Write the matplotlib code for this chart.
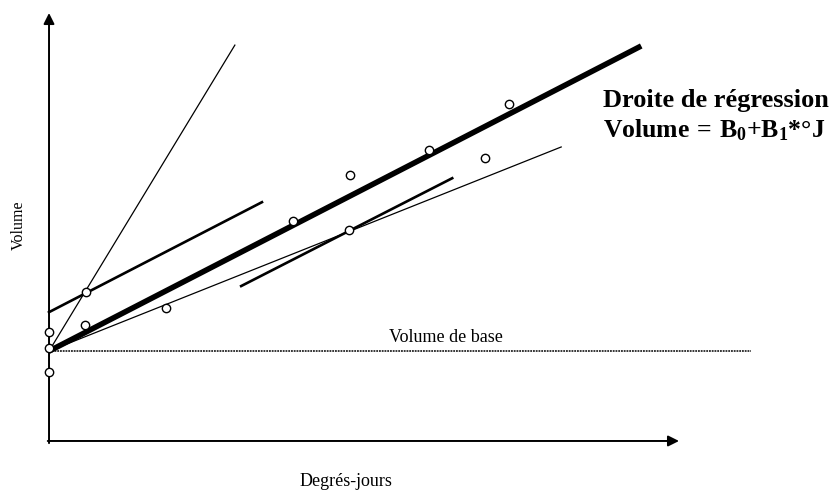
import matplotlib
matplotlib.use("Agg")
import matplotlib.pyplot as plt

# ---- data (units: degree-days on x, volume on y) ----
obs_x = [0, 0, 0, 5.9, 5.7, 18.6, 38.7, 47.8, 47.6, 60.3, 69.2, 73.0]
obs_y = [25.5, 21.7, 16.1, 34.8, 27.1, 31.1, 51.4, 62.1, 49.3, 68.0, 66.1, 78.7]

base_volume = 21.0
base_x = [0, 111.5]

regression_x = [0, 94.0]
regression_y = [21.0, 92.3]

steep_x = [0, 29.5]
steep_y = [21.0, 92.5]

upper_x = [0, 33.8]
upper_y = [30.1, 55.8]

lower_x = [0, 81.3]
lower_y = [21.0, 68.7]

short_x = [30.5, 64.0]
short_y = [36.2, 61.4]

x_label = "Degrés-jours"
y_label = "Volume"
base_label = "Volume de base"
title1 = "Droite de régression"

plt.rcParams['mathtext.fontset'] = 'custom'
plt.rcParams['mathtext.rm'] = 'Liberation Serif:bold'
plt.rcParams['mathtext.bf'] = 'Liberation Serif:bold'
plt.rcParams['mathtext.it'] = 'Liberation Serif:bold'

fig = plt.figure(figsize=(8.35, 4.92), dpi=100)
ax = fig.add_axes([0, 0, 1, 1])
ax.set_xlim(-7.78, 124.76)
ax.set_ylim(-11.92, 103.04)
ax.axis('off')

serif = 'Liberation Serif'

# axes with arrows
ax.annotate('', xy=(0, 100), xytext=(0, -0.5),
            arrowprops=dict(arrowstyle='-|>', lw=1.4, color='black',
                            mutation_scale=16, shrinkA=0, shrinkB=0))
ax.annotate('', xy=(100, 0), xytext=(-0.2, 0),
            arrowprops=dict(arrowstyle='-|>', lw=1.4, color='black',
                            mutation_scale=16, shrinkA=0, shrinkB=0))

# base volume line
ax.plot(base_x, [base_volume, base_volume], color='black', lw=1.1,
        linestyle=(0, (1.2, 0.6)))

# lines
ax.plot(regression_x, regression_y, color='black', lw=4.0, solid_capstyle='butt')
ax.plot(steep_x, steep_y, color='black', lw=0.9)
ax.plot(upper_x, upper_y, color='black', lw=1.9)
ax.plot(lower_x, lower_y, color='black', lw=0.9)
ax.plot(short_x, short_y, color='black', lw=1.9)

# observations
ax.plot(obs_x, obs_y, linestyle='none', marker='o', markersize=6,
        markerfacecolor='white', markeredgecolor='black', markeredgewidth=1.0,
        zorder=5)

# texts
ax.text(63.0, 24.1, base_label, fontsize=13, family=serif,
        ha='center', va='center')
ax.text(47.1, -9.4, x_label, fontsize=13, family=serif,
        ha='center', va='center')
ax.text(-4.8, 50.5, y_label, fontsize=11.5, family=serif, rotation=90,
        ha='center', va='center')
ax.text(87.9, 79.6, title1, fontsize=19, family=serif, fontweight='bold',
        ha='left', va='center')
ax.text(87.9, 72.6, r'$\mathrm{Volume\,{=}\,B_0{+}B_1{*}°J}$', fontsize=18.5,
        ha='left', va='center')

fig.savefig('out.png', dpi=100)
